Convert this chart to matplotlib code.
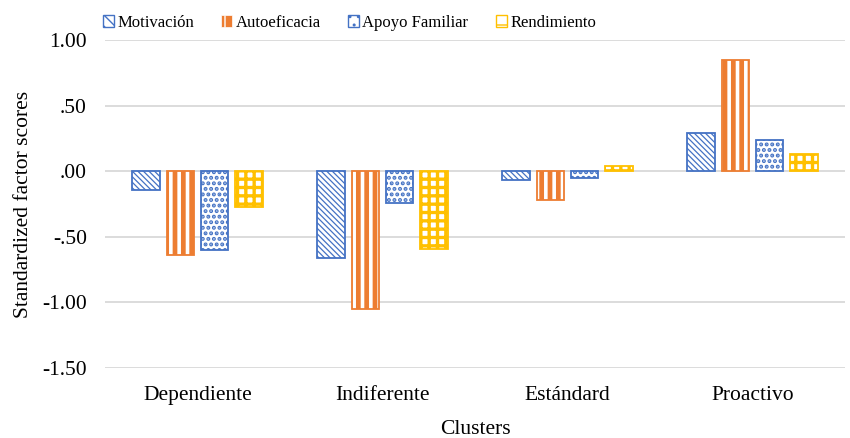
import matplotlib
matplotlib.use("Agg")
import matplotlib.pyplot as plt
from matplotlib.patches import Patch
import numpy as np

clusters = ["Dependiente", "Indiferente", "Estándard", "Proactivo"]
series = ["Motivación", "Autoeficacia", "Apoyo Familiar", "Rendimiento"]
motivacion = [-0.14, -0.66, -0.07, 0.29]
autoeficacia = [-0.64, -1.05, -0.22, 0.85]
apoyo = [-0.60, -0.24, -0.05, 0.24]
rendimiento = [-0.27, -0.59, 0.04, 0.13]
yticks = [1.0, 0.5, 0.0, -0.5, -1.0, -1.5]
ytick_labels = ["1.00", ".50", ".00", "-.50", "-1.00", "-1.50"]

plt.rcParams['font.family'] = ['Liberation Serif', 'DejaVu Serif']

blue = '#4472C4'
orange = '#ED7D31'
gold = '#FFC000'

fig = plt.figure(figsize=(8.5, 4.38), dpi=100)
ax = fig.add_axes([105 / 850, 1 - 368 / 438, 740 / 850, 328 / 438])

x = np.arange(len(clusters))
width = 0.151
step = 0.184


def set_hlw(bars, lw):
    for b in bars:
        if hasattr(b, 'set_hatch_linewidth'):
            b.set_hatch_linewidth(lw)


# Motivación: thin blue diagonals
b = ax.bar(x - 1.5 * step, motivacion, width, facecolor='white', edgecolor=blue,
           hatch='\\\\\\\\\\\\', linewidth=1.3, zorder=3)
set_hlw(b, 0.9)

# Autoeficacia: orange with white vertical stripes
b = ax.bar(x - 0.5 * step, autoeficacia, width, facecolor=orange, edgecolor='white',
           hatch='||', linewidth=0, zorder=3)
set_hlw(b, 2.6)
ax.bar(x - 0.5 * step, autoeficacia, width, fill=False, edgecolor=orange,
       linewidth=1.3, zorder=4)

# Apoyo Familiar: blue dots
b = ax.bar(x + 0.5 * step, apoyo, width, facecolor='white', edgecolor=blue,
           hatch='...', linewidth=1.3, zorder=3)
set_hlw(b, 2.0)

# Rendimiento: gold plaid
b = ax.bar(x + 1.5 * step, rendimiento, width, facecolor='white', edgecolor=gold,
           hatch='++', linewidth=1.3, zorder=3)
set_hlw(b, 2.4)

ax.set_ylim(-1.5, 1.0)
ax.set_xlim(-0.5, 3.5)
ax.set_yticks(yticks)
ax.set_yticklabels(ytick_labels, fontsize=15.5)
ax.set_xticks(x)
ax.set_xticklabels(clusters, fontsize=15.5)
ax.yaxis.grid(True, color='#D9D9D9', linewidth=1.3, zorder=0)
ax.set_axisbelow(True)
for s in ax.spines.values():
    s.set_visible(False)
ax.tick_params(axis='y', length=0, pad=13)
ax.tick_params(axis='x', length=0, pad=13)
ax.set_ylabel("Standardized factor scores", fontsize=15.5)
ax.set_xlabel("Clusters", fontsize=15.5)
ax.yaxis.set_label_coords(-0.097, 0.5)
ax.xaxis.set_label_coords(0.5, -0.160)

handles = [
    Patch(facecolor='white', edgecolor=blue, hatch='\\\\\\', linewidth=1.0),
    Patch(facecolor=orange, edgecolor='white', hatch='|', linewidth=0.5),
    Patch(facecolor='white', edgecolor=blue, hatch='..', linewidth=1.0),
    Patch(facecolor='white', edgecolor=gold, hatch='+', linewidth=1.0),
]
for h, lw in zip(handles, [0.9, 2.6, 2.0, 2.4]):
    if hasattr(h, 'set_hatch_linewidth'):
        h.set_hatch_linewidth(lw)

fig.legend(handles, series, loc='center left', bbox_to_anchor=(103 / 850, 1 - 23 / 438),
           ncol=4, frameon=False, fontsize=12, handlelength=0.65, handleheight=0.75,
           handletextpad=0.2, columnspacing=1.65, borderpad=0, borderaxespad=0)

fig.savefig("out.png", dpi=100, facecolor='white')
